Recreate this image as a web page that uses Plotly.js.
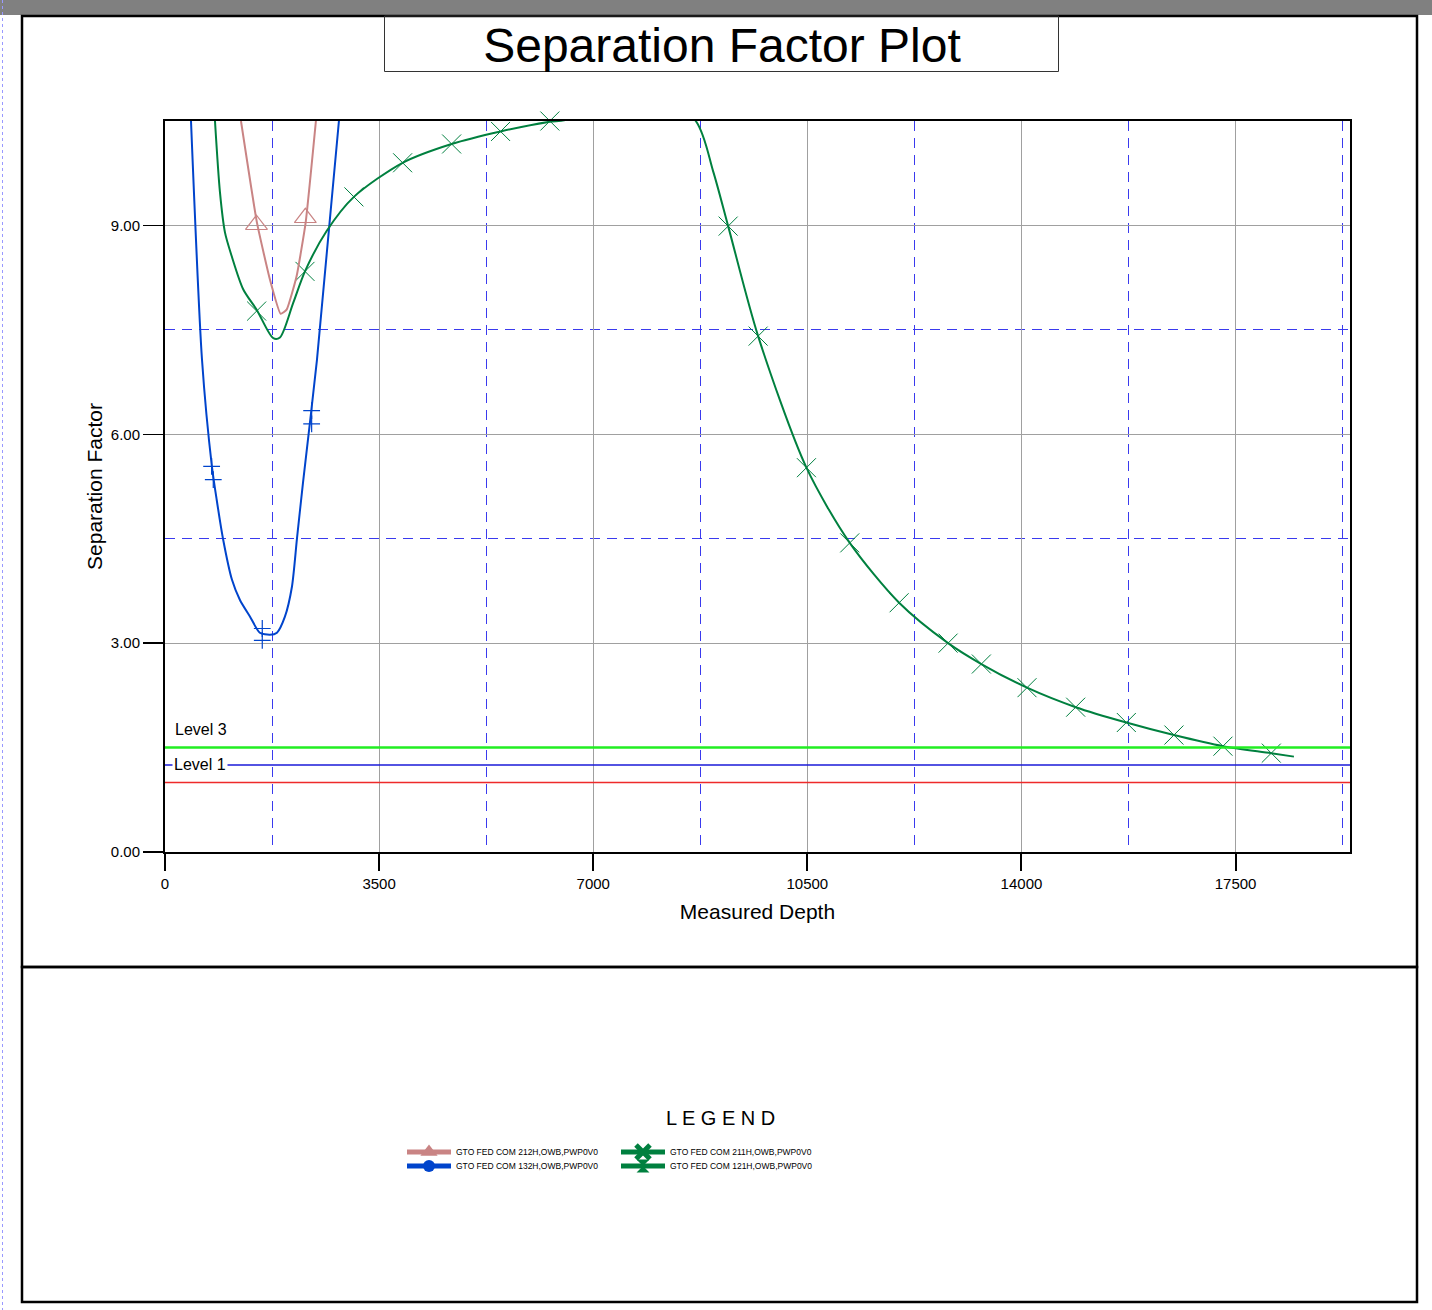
<!DOCTYPE html>
<html><head><meta charset="utf-8">
<script src="https://cdn.plot.ly/plotly-3.0.1.min.js"></script>
<style>html,body{margin:0;padding:0;background:#fff;overflow:hidden}#chart{width:1432px;height:1310px}</style>
</head><body><div id="chart"></div>
<script>
// ---------------- data ----------------
const seriesNames = [
  "GTO FED COM 212H,OWB,PWP0V0",
  "GTO FED COM 132H,OWB,PWP0V0",
  "GTO FED COM 211H,OWB,PWP0V0",
  "GTO FED COM 121H,OWB,PWP0V0"
];

// 212H (pink)
const md212 = [1242, 1503, 1716, 1890, 1988, 2151, 2299, 2467];
const sf212 = [10.5, 9.04, 8.22, 7.73, 7.79, 8.27, 9.04, 10.5];
const md212Mk = [1495, 2294];
const sf212Mk = [9.01, 9.11];

// 132H (blue)
const md132 = [425, 605, 768, 845, 948, 1095, 1225, 1390, 1550, 1715, 1830, 1960, 2075, 2157, 2255, 2484, 2843];
const sf132 = [10.5, 7.07, 5.53, 5.06, 4.5, 3.91, 3.62, 3.38, 3.15, 3.12, 3.15, 3.38, 3.81, 4.5, 5.3, 7.07, 10.5];
const md132Mk = [762, 789, 1590, 1590, 2397, 2397];
const sf132Mk = [5.54, 5.35, 3.21, 3.04, 6.34, 6.15];

// 211H (green)
const md211 = [817, 899, 980, 1090, 1280, 1498, 1770, 1879, 2097, 2288, 2642, 3088, 3884, 4685, 5485, 6291, 6563, 7600,
               8676, 8959, 9205, 9695, 10485, 11193, 12000, 12800, 13344, 14090,
               14886, 15714, 16492, 17293, 18083, 18453];
const sf211 = [10.5, 9.47, 8.9, 8.56, 8.08, 7.79, 7.38, 7.39, 7.89, 8.34, 8.92, 9.41, 9.90, 10.17, 10.35, 10.49, 10.52, 11.2,
               10.5, 9.78, 8.99, 7.41, 5.52, 4.44, 3.58, 3.0, 2.70, 2.36,
               2.08, 1.86, 1.68, 1.52, 1.42, 1.37];
const md211Mk = [1498, 2288, 3088, 3884, 4685, 5485, 6291, 9205, 9695, 10485, 11193, 12000, 12800, 13344, 14090, 14886, 15714, 16492, 17293, 18083];
const sf211Mk = [7.77, 8.34, 9.41, 9.90, 10.17, 10.35, 10.5, 8.99, 7.41, 5.52, 4.44, 3.58, 3.0, 2.70, 2.36, 2.08, 1.86, 1.68, 1.52, 1.42];

// separation factor levels
const levelValues = [1.0, 1.25, 1.5];
const levelColors = ["#ee2a2a", "#1a1ad8", "#22ee22"];
const levelLabels = ["", "Level 1", "Level 3"];

const xRange = [0, 19370];
const yRange = [0, 10.5];
const xTickStep = 3500;
const yTickStep = 3;

// ---------------- page geometry helpers (layout decoration only) ----------------
const W = 1432, H = 1310;
const M = {l: 165, r: W - 1350, t: 121, b: H - 852};
const pw = W - M.l - M.r, ph = H - M.t - M.b;
const px = v => (v - M.l) / pw;
const py = v => (H - M.b - v) / ph;

const colPink = "#c98484", colBlue = "#0044cc", colGreen = "#00803f";
const FONT = "Liberation Sans, Arial, sans-serif";

const traces = [
  {x: md132, y: sf132, mode: "lines", line: {color: colBlue, width: 2, shape: "spline", smoothing: 0.7}, showlegend: false},
  {x: md132Mk, y: sf132Mk, mode: "markers", marker: {symbol: "cross-thin-open", size: 12, color: colBlue, line: {color: colBlue, width: 1.2}}, showlegend: false, cliponaxis: false},
  {x: md211, y: sf211, mode: "lines", line: {color: colGreen, width: 2, shape: "spline", smoothing: 0.8}, showlegend: false},
  {x: md211Mk, y: sf211Mk, mode: "markers", marker: {symbol: "x-thin-open", size: 19, color: colGreen, line: {color: colGreen, width: 1}}, showlegend: false, cliponaxis: false},
  {x: md212, y: sf212, mode: "lines", line: {color: colPink, width: 2, shape: "spline", smoothing: 0.4}, showlegend: false},
  {x: md212Mk, y: sf212Mk, mode: "markers", marker: {symbol: "triangle-up-open", size: 19, color: colPink, line: {color: colPink, width: 1.2}}, showlegend: false, cliponaxis: false},
  // legend entries
  {x: [null], y: [null], name: seriesNames[0], legend: "legend", mode: "lines+markers", line: {color: colPink, width: 5}, marker: {symbol: "triangle-up", size: 15, color: colPink}},
  {x: [null], y: [null], name: seriesNames[1], legend: "legend2", mode: "lines+markers", line: {color: colBlue, width: 5}, marker: {symbol: "circle", size: 12, color: colBlue}},
  {x: [null], y: [null], name: seriesNames[2], legend: "legend3", mode: "lines+markers", line: {color: colGreen, width: 5}, marker: {symbol: "x-thin-open", size: 14, color: colGreen, line: {color: colGreen, width: 5}}},
  {x: [null], y: [null], name: seriesNames[3], legend: "legend4", mode: "lines+markers", line: {color: colGreen, width: 5}, marker: {symbol: "hourglass", size: 13, color: colGreen}}
];

const shapes = [];
// level lines
levelValues.forEach((v, i) => shapes.push({type: "line", xref: "paper", x0: 0, x1: 1, yref: "y", y0: v, y1: v, line: {color: levelColors[i], width: i === 2 ? 2.5 : 1.5}, layer: "above"}));
// top grey band
shapes.push({type: "rect", xref: "paper", yref: "paper", x0: px(0), x1: px(W), y0: py(15), y1: py(0), fillcolor: "#808080", line: {width: 0}});
// left dotted line
shapes.push({type: "line", xref: "paper", yref: "paper", x0: px(2.5), x1: px(2.5), y0: py(0), y1: py(H), line: {color: "#9999ff", width: 1, dash: "dot"}});
// outer frames
shapes.push({type: "rect", xref: "paper", yref: "paper", x0: px(22), x1: px(1417), y0: py(967), y1: py(16), line: {color: "#000", width: 2.5}});
shapes.push({type: "rect", xref: "paper", yref: "paper", x0: px(22), x1: px(1417), y0: py(1302), y1: py(967), line: {color: "#000", width: 2.5}});
// title box
shapes.push({type: "rect", xref: "paper", yref: "paper", x0: px(384.5), x1: px(1058.5), y0: py(71.5), y1: py(16), line: {color: "#333", width: 1}});

const annotations = [];
levelValues.forEach((v, i) => {
  if (!levelLabels[i]) return;
  if (i === 2) {
    annotations.push({xref: "paper", x: 0, xanchor: "left", xshift: 8, yref: "y", y: v, yanchor: "bottom", yshift: 8,
      text: levelLabels[i], showarrow: false, font: {family: FONT, size: 16, color: "#000"}});
  } else {
    annotations.push({xref: "paper", x: 0, xanchor: "left", xshift: 7, yref: "y", y: v, yanchor: "middle",
      text: levelLabels[i], showarrow: false, bgcolor: "#fff", borderpad: 1, font: {family: FONT, size: 16, color: "#000"}});
  }
});
annotations.push({xref: "paper", yref: "paper", x: px(720), y: py(1118), xanchor: "center", yanchor: "middle",
  text: "L E G E N D", showarrow: false, font: {family: FONT, size: 20, color: "#000"}});

const legendBase = {bgcolor: "rgba(0,0,0,0)", borderwidth: 0, font: {family: FONT, size: 8.5, color: "#000"}, itemwidth: 44, xanchor: "left", yanchor: "middle", orientation: "v", tracegroupgap: 0};

const layout = {
  width: W, height: H,
  margin: {l: M.l, r: M.r, t: M.t, b: M.b, autoexpand: false},
  paper_bgcolor: "#fff", plot_bgcolor: "#fff",
  font: {family: FONT, color: "#000"},
  title: {text: "Separation Factor Plot", font: {family: FONT, size: 48, color: "#000"}, xref: "paper", x: px(722), xanchor: "center", yref: "container", y: 1 - 45 / H, yanchor: "middle"},
  xaxis: {
    range: xRange, tick0: 0, dtick: xTickStep, tickformat: "d", showgrid: true, gridcolor: "#a0a0a0", gridwidth: 1,
    zeroline: false, showline: true, mirror: true, linecolor: "#000", linewidth: 2,
    ticks: "outside", ticklen: 17, tickwidth: 2, tickcolor: "#000",
    tickfont: {family: FONT, size: 15, color: "#000"},
    minor: {dtick: xTickStep / 2, showgrid: true, gridcolor: "#3a3aee", griddash: "10px,7px", gridwidth: 1, ticks: ""},
    title: {text: "Measured Depth", font: {family: FONT, size: 21, color: "#000"}, standoff: 13}
  },
  yaxis: {
    range: yRange, tick0: 0, dtick: yTickStep, tickformat: ".2f", showgrid: true, gridcolor: "#a0a0a0", gridwidth: 1,
    zeroline: false, showline: true, mirror: true, linecolor: "#000", linewidth: 2,
    ticks: "outside", ticklen: 20, tickwidth: 1.5, tickcolor: "#000",
    tickfont: {family: FONT, size: 15, color: "#000"},
    minor: {dtick: yTickStep / 2, showgrid: true, gridcolor: "#3a3aee", griddash: "10px,7px", gridwidth: 1, ticks: ""},
    title: {text: "Separation Factor", font: {family: FONT, size: 21, color: "#000"}, standoff: 2}
  },
  shapes: shapes,
  annotations: annotations,
  legend: Object.assign({}, legendBase, {x: px(402), y: py(1152)}),
  legend2: Object.assign({}, legendBase, {x: px(402), y: py(1166)}),
  legend3: Object.assign({}, legendBase, {x: px(616), y: py(1152)}),
  legend4: Object.assign({}, legendBase, {x: px(616), y: py(1166)}),
  showlegend: true
};

Plotly.newPlot("chart", traces, layout, {displayModeBar: false, staticPlot: true});
</script>
</body></html>
